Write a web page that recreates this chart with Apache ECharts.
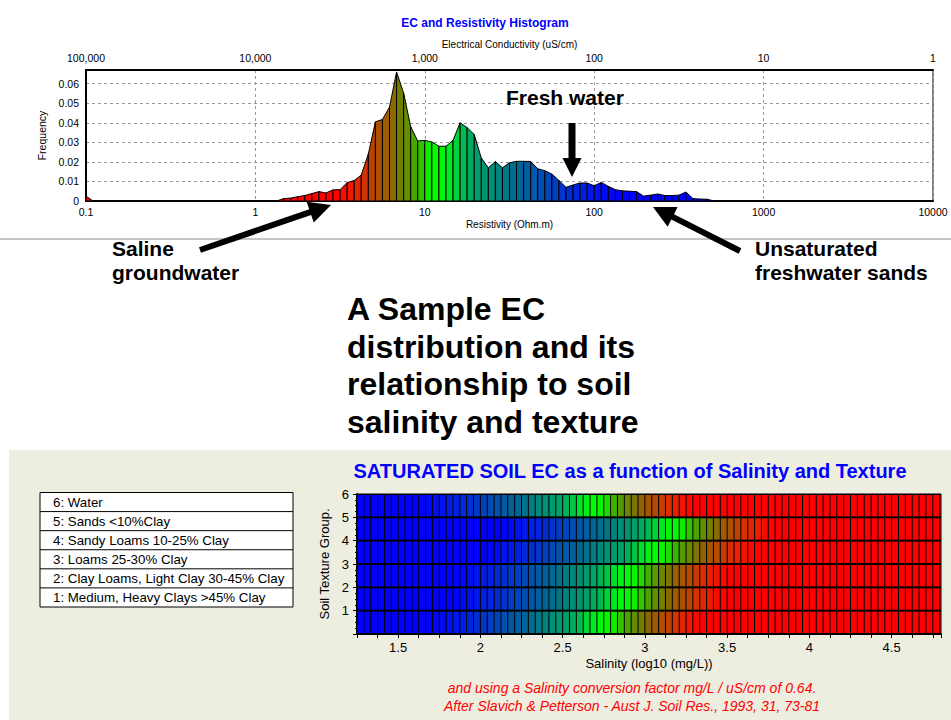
<!DOCTYPE html>
<html>
<head>
<meta charset="utf-8">
<title>EC distribution and soil salinity / texture</title>
<script src="https://cdn.jsdelivr.net/npm/echarts@6/dist/echarts.min.js"></script>
<style>
  html, body { margin: 0; padding: 0; background: #fff; }
  #main { width: 951px; height: 720px; }
</style>
</head>
<body>
<div id="main"></div>
<script>
// histogram bins: log spaced, 24 per decade, starting at 0.1 ohm.m
var binsPerDecade = 24;
var firstBinRes = 0.1;
// frequency at each bin edge
var frequency = [
  0.0025, 0, 0, 0, 0, 0, 0, 0, 0, 0, 0, 0, 0, 0, 0, 0, 0, 0, 0, 0, 0, 0, 0, 0, 0, 0, 0, 0,
  0.0012, 0.0015, 0.0022, 0.0028, 0.0038, 0.0048, 0.0041, 0.0057, 0.0058, 0.0094,
  0.0105, 0.0133, 0.024, 0.0405, 0.0417, 0.048, 0.066, 0.0552, 0.038, 0.0307,
  0.031, 0.0302, 0.028, 0.028, 0.031, 0.040, 0.0375, 0.034, 0.022, 0.017,
  0.0202, 0.017, 0.0195, 0.0203, 0.0203, 0.0202, 0.0165, 0.0155, 0.0138, 0.0105,
  0.007, 0.0082, 0.0092, 0.0092, 0.0078, 0.0095, 0.0075, 0.0058, 0.0052, 0.005,
  0.0048, 0.0025, 0.003, 0.0036, 0.0028, 0.0028, 0.003, 0.0046, 0.0012, 0.001,
  0.0009, 0
];

// saturated soil EC grid: salinity columns (log10 mg/L), 24 per unit
var salinityMin = 1.25;
var salinityMax = 4.8;
var columnsPerUnit = 24;
var salinityTicks = [1.5, 2, 2.5, 3, 3.5, 4, 4.5];
// texture groups, bottom row first, and the salinity where each row is bright green
var textureRows = [1, 2, 3, 4, 5, 6];
var rowGreenSalinity = [2.75, 2.88, 2.90, 3.07, 3.17, 2.69];
var textureNames = [
  '6: Water',
  '5: Sands <10%Clay',
  '4: Sandy Loams 10-25% Clay',
  '3: Loams 25-30% Clay',
  '2: Clay Loams, Light Clay 30-45% Clay',
  '1: Medium, Heavy Clays >45% Clay'
];

var FONT = '"Liberation Sans", Arial, sans-serif';

// colour ramp by log10 EC relative to the green point (positive = saltier)
var colourStops = [
  [-1.05, [0, 0, 255]],
  [-0.9, [0, 24, 236]],
  [-0.75, [0, 48, 208]],
  [-0.6, [0, 80, 176]],
  [-0.45, [0, 106, 144]],
  [-0.32, [0, 140, 120]],
  [-0.22, [0, 160, 104]],
  [-0.15, [0, 184, 80]],
  [-0.08, [0, 228, 40]],
  [0, [0, 255, 0]],
  [0.06, [16, 236, 0]],
  [0.12, [64, 176, 0]],
  [0.18, [96, 144, 0]],
  [0.22, [112, 128, 0]],
  [0.27, [138, 104, 0]],
  [0.31, [160, 90, 0]],
  [0.36, [176, 76, 0]],
  [0.4, [192, 64, 0]],
  [0.44, [216, 48, 0]],
  [0.5, [232, 32, 0]],
  [0.56, [248, 12, 0]],
  [0.62, [255, 0, 0]]
];
var greenLogEC = 2.92;

function colourAt(d) {
  var s = colourStops;
  if (d <= s[0][0]) return 'rgb(' + s[0][1].join(',') + ')';
  for (var k = 1; k < s.length; k++) {
    if (d <= s[k][0]) {
      var t = (d - s[k - 1][0]) / (s[k][0] - s[k - 1][0]);
      var rgb = s[k - 1][1].map(function (v, j) { return Math.round(v + (s[k][1][j] - v) * t); });
      return 'rgb(' + rgb.join(',') + ')';
    }
  }
  return 'rgb(' + s[s.length - 1][1].join(',') + ')';
}

// histogram strips between consecutive bin edges
var strips = [];
for (var i = 0; i < frequency.length - 1; i++) {
  if (frequency[i] === 0 && frequency[i + 1] === 0) continue;
  var r0 = firstBinRes * Math.pow(10, i / binsPerDecade);
  var r1 = firstBinRes * Math.pow(10, (i + 1) / binsPerDecade);
  var midLogEC = 4 - (Math.log10(r0) + Math.log10(r1)) / 2;   // EC (uS/cm) = 10000 / resistivity
  strips.push({ value: [r0, r1, frequency[i], frequency[i + 1]], itemStyle: { color: colourAt(midLogEC - greenLogEC) } });
}

// soil grid cells: [salinity from, salinity to, group from, group to]
var nCols = Math.ceil((salinityMax - salinityMin) * columnsPerUnit);
var cells = [];
textureRows.forEach(function (row, n) {
  var green = rowGreenSalinity[n];
  for (var c = 0; c < nCols; c++) {
    var a = salinityMin + c / columnsPerUnit;
    var b = Math.min(salinityMax, a + 1 / columnsPerUnit);
    cells.push({ value: [a, b, row - 1, row], itemStyle: { color: colourAt((a + b) / 2 - green) } });
  }
});

function withCommas(v) {
  return String(Math.round(v)).replace(/\B(?=(\d{3})+(?!\d))/g, ',');
}

function arrow(x1, y1, x2, y2, w, headLen, headW) {
  var dx = x2 - x1, dy = y2 - y1, len = Math.sqrt(dx * dx + dy * dy);
  var ux = dx / len, uy = dy / len, px = -uy, py = ux;
  var bx = x2 - ux * headLen, by = y2 - uy * headLen;
  return {
    type: 'polygon', z: 100,
    shape: { points: [
      [x1 + px * w / 2, y1 + py * w / 2], [bx + px * w / 2, by + py * w / 2],
      [bx + px * headW / 2, by + py * headW / 2], [x2, y2],
      [bx - px * headW / 2, by - py * headW / 2], [bx - px * w / 2, by - py * w / 2],
      [x1 - px * w / 2, y1 - py * w / 2]
    ] },
    style: { fill: '#000' }
  };
}

function label(x, y, text, font, fill, align) {
  return {
    type: 'text', x: x, y: y, z: 100,
    style: { text: text, font: font, fill: fill || '#000',
      align: align || 'left', textAlign: align || 'left',
      verticalAlign: 'middle', textVerticalAlign: 'middle' }
  };
}

var graphics = [
  { type: 'rect', z: -10, shape: { x: 9, y: 450, width: 942, height: 270 }, style: { fill: '#EEEEE0' } },
  { type: 'line', z: -5, shape: { x1: 0, y1: 239, x2: 951, y2: 239 }, style: { stroke: '#C4C4C4', lineWidth: 2 } },
  label(485, 23, 'EC and Resistivity Histogram', 'bold 12px ' + FONT, '#0000FF', 'center'),
  label(506, 97, 'Fresh water', 'bold 21px ' + FONT),
  label(112, 248, 'Saline', 'bold 21px ' + FONT),
  label(112, 272, 'groundwater', 'bold 21px ' + FONT),
  label(755, 248, 'Unsaturated', 'bold 21px ' + FONT),
  label(755, 272, 'freshwater sands', 'bold 21px ' + FONT),
  label(347, 309, 'A Sample EC', 'bold 32px ' + FONT),
  label(347, 347, 'distribution and its', 'bold 32px ' + FONT),
  label(347, 384, 'relationship to soil', 'bold 32px ' + FONT),
  label(347, 422, 'salinity and texture', 'bold 32px ' + FONT),
  arrow(572, 123, 572, 177, 7, 19, 19),
  arrow(200, 250, 331, 205, 6, 22, 22),
  arrow(740, 251, 653, 207, 6, 22, 22),
  label(630, 471, 'SATURATED SOIL EC as a function of Salinity and Texture', 'bold 20px ' + FONT, '#0000FF', 'center'),
  label(632, 688, 'and using a Salinity conversion factor mg/L / uS/cm of 0.64.', 'italic 14px ' + FONT, '#FF0000', 'center'),
  label(632, 706, 'After Slavich & Petterson - Aust J. Soil Res., 1993, 31, 73-81', 'italic 14px ' + FONT, '#FF0000', 'center'),
  { type: 'rect', z: 50, shape: { x: 40, y: 492.5, width: 253, height: 114.5 }, style: { fill: '#fff', stroke: '#000', lineWidth: 1 } }
];
textureNames.forEach(function (name, n) {
  var top = 492.5 + n * 19.08;
  if (n > 0) {
    graphics.push({ type: 'line', z: 51, shape: { x1: 40, y1: top, x2: 293, y2: top }, style: { stroke: '#000', lineWidth: 1 } });
  }
  graphics.push(label(53, top + 9.8, name, '13.3px ' + FONT));
});

var chart = echarts.init(document.getElementById('main'), null, { renderer: 'svg' });

chart.setOption({
  animation: false,
  backgroundColor: '#fff',
  textStyle: { fontFamily: FONT, color: '#000' },
  grid: [
    { left: 86, top: 70, width: 847, height: 131, show: true, borderColor: '#000', borderWidth: 1, backgroundColor: 'transparent' },
    { left: 357, top: 494, width: 584, height: 140, show: true, borderColor: '#000', borderWidth: 1, backgroundColor: '#000' }
  ],
  xAxis: [
    {
      type: 'log', logBase: 10, gridIndex: 0, position: 'bottom', min: 0.1, max: 10000,
      name: 'Resistivity (Ohm.m)', nameLocation: 'middle', nameGap: 18,
      nameTextStyle: { fontSize: 10, color: '#000', fontFamily: FONT },
      axisLine: { show: true, onZero: false, lineStyle: { color: '#000', width: 2 } },
      axisTick: { show: false },
      axisLabel: { fontSize: 10.5, color: '#000', fontFamily: FONT, margin: 5, showMinLabel: true, showMaxLabel: true,
        formatter: function (v) { return String(+v.toPrecision(6)); } },
      splitLine: { show: true, lineStyle: { color: '#999', type: [3, 3], width: 1 } }
    },
    {
      type: 'log', logBase: 10, gridIndex: 0, position: 'top', min: 1, max: 100000, inverse: true,
      name: 'Electrical Conductivity (uS/cm)', nameLocation: 'middle', nameGap: 21,
      nameTextStyle: { fontSize: 10, color: '#000', fontFamily: FONT },
      axisLine: { show: true, onZero: false, lineStyle: { color: '#000', width: 2 } },
      axisTick: { show: false },
      axisLabel: { fontSize: 10.5, color: '#000', fontFamily: FONT, margin: 7, showMinLabel: true, showMaxLabel: true,
        formatter: withCommas },
      splitLine: { show: false }
    },
    {
      type: 'value', gridIndex: 1, position: 'bottom', min: salinityMin, max: salinityMax, interval: 0.125,
      name: 'Salinity (log10 (mg/L))', nameLocation: 'middle', nameGap: 23,
      nameTextStyle: { fontSize: 13, color: '#000', fontFamily: FONT },
      axisLine: { show: true, onZero: false, lineStyle: { color: '#000', width: 2 } },
      axisTick: { show: true, length: 4, lineStyle: { color: '#000' } },
      axisLabel: { fontSize: 13, color: '#000', fontFamily: FONT, margin: 7, showMinLabel: true, showMaxLabel: true,
        formatter: function (v) {
          for (var n = 0; n < salinityTicks.length; n++) {
            if (Math.abs(salinityTicks[n] - v) < 1e-6) return String(salinityTicks[n]);
          }
          return '';
        } },
      splitLine: { show: false }
    }
  ],
  yAxis: [
    {
      type: 'value', gridIndex: 0, min: 0, max: 0.067, interval: 0.01,
      name: 'Frequency', nameLocation: 'middle', nameGap: 35,
      nameTextStyle: { fontSize: 10.5, color: '#000', fontFamily: FONT },
      axisLine: { show: true, onZero: false, lineStyle: { color: '#000', width: 2 } },
      axisTick: { show: false },
      axisLabel: { fontSize: 10.5, color: '#000', fontFamily: FONT, margin: 7, showMaxLabel: false,
        formatter: function (v) { return String(+v.toFixed(3)); } },
      splitLine: { show: true, lineStyle: { color: '#999', type: [3, 3], width: 1 } }
    },
    {
      type: 'value', gridIndex: 1, min: 0, max: 6, interval: 1,
      name: 'Soil Texture Group.', nameLocation: 'middle', nameGap: 22,
      nameTextStyle: { fontSize: 13, color: '#000', fontFamily: FONT },
      axisLine: { show: true, onZero: false, lineStyle: { color: '#000', width: 2 } },
      axisTick: { show: true, length: 4, lineStyle: { color: '#000' } },
      minorTick: { show: true, splitNumber: 4, length: 2, lineStyle: { color: '#000' } },
      axisLabel: { fontSize: 13, color: '#000', fontFamily: FONT, margin: 8, showMaxLabel: true,
        formatter: function (v) { return v === 0 ? '' : String(v); } },
      splitLine: { show: false }
    }
  ],
  series: [
    {
      type: 'custom', name: 'Frequency', xAxisIndex: 0, yAxisIndex: 0,
      encode: { x: [0, 1], y: [2, 3] },
      clip: true,
      data: strips,
      renderItem: function (params, api) {
        var x0 = api.value(0), x1 = api.value(1);
        return {
          type: 'polygon',
          shape: { points: [
            api.coord([x0, 0]), api.coord([x0, api.value(2)]),
            api.coord([x1, api.value(3)]), api.coord([x1, 0])
          ] },
          style: { fill: api.visual('color'), stroke: '#000', lineWidth: 1 }
        };
      }
    },
    {
      type: 'custom', name: 'Saturated soil EC', xAxisIndex: 2, yAxisIndex: 1,
      encode: { x: [0, 1], y: [2, 3] },
      clip: true,
      data: cells,
      renderItem: function (params, api) {
        var p0 = api.coord([api.value(0), api.value(3)]);
        var p1 = api.coord([api.value(1), api.value(2)]);
        return {
          type: 'rect',
          shape: { x: p0[0] + 0.5, y: p0[1] + 1, width: p1[0] - p0[0] - 1, height: p1[1] - p0[1] - 2 },
          style: { fill: api.visual('color') }
        };
      }
    }
  ],
  graphic: { elements: graphics }
});
</script>
</body>
</html>
